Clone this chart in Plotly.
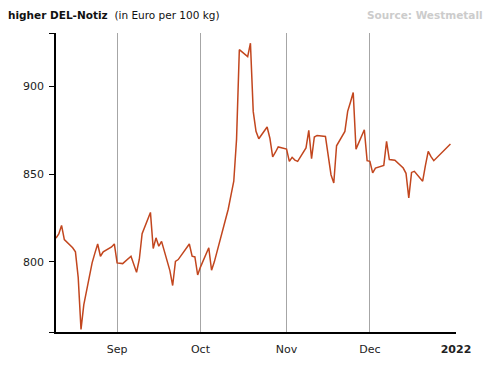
import plotly.graph_objects as go

dates = [
    "2021-08-10", "2021-08-11", "2021-08-12", "2021-08-13", "2021-08-16", "2021-08-17",
    "2021-08-18", "2021-08-19", "2021-08-20", "2021-08-23", "2021-08-24", "2021-08-25",
    "2021-08-26", "2021-08-27", "2021-08-30", "2021-08-31",
    "2021-09-01", "2021-09-02", "2021-09-03", "2021-09-06", "2021-09-07", "2021-09-08",
    "2021-09-09", "2021-09-10", "2021-09-13", "2021-09-14", "2021-09-15", "2021-09-16",
    "2021-09-17", "2021-09-20", "2021-09-21", "2021-09-22", "2021-09-23", "2021-09-24",
    "2021-09-27", "2021-09-28", "2021-09-29", "2021-09-30",
    "2021-10-01", "2021-10-04", "2021-10-05", "2021-10-06", "2021-10-07", "2021-10-08",
    "2021-10-11", "2021-10-12", "2021-10-13", "2021-10-14", "2021-10-15", "2021-10-18",
    "2021-10-19", "2021-10-20", "2021-10-21", "2021-10-22", "2021-10-25", "2021-10-26",
    "2021-10-27", "2021-10-28", "2021-10-29",
    "2021-11-01", "2021-11-02", "2021-11-03", "2021-11-04", "2021-11-05", "2021-11-08",
    "2021-11-09", "2021-11-10", "2021-11-11", "2021-11-12", "2021-11-15", "2021-11-16",
    "2021-11-17", "2021-11-18", "2021-11-19", "2021-11-22", "2021-11-23", "2021-11-24",
    "2021-11-25", "2021-11-26", "2021-11-29", "2021-11-30",
    "2021-12-01", "2021-12-02", "2021-12-03", "2021-12-06", "2021-12-07", "2021-12-08",
    "2021-12-09", "2021-12-10", "2021-12-13", "2021-12-14", "2021-12-15", "2021-12-16",
    "2021-12-17", "2021-12-20", "2021-12-21", "2021-12-22", "2021-12-23", "2021-12-24",
    "2021-12-30",
]
prices = [
    813.5, 815.9, 820.8, 812.7, 808.0, 805.7,
    791.0, 761.5, 775.5, 799.4, 805.0, 810.2,
    803.2, 805.7, 808.5, 810.2,
    799.4, 799.2, 799.0, 803.2, 798.6, 794.0,
    801.5, 816.0, 828.2, 807.6, 813.7, 808.9,
    811.7, 795.0, 786.5, 800.3, 801.3, 803.5,
    810.2, 803.2, 802.8, 792.5,
    797.0, 808.0, 795.2, 800.0, 806.0, 813.0,
    830.0, 838.0, 846.0, 870.0, 921.0, 917.0,
    924.7, 885.8, 874.4, 870.2, 876.9, 870.5,
    859.8, 862.5, 865.5,
    864.3, 857.3, 859.6, 858.0, 857.3, 865.0,
    875.0, 858.8, 871.2, 872.1, 871.5, 861.0,
    849.7, 845.0, 866.2, 874.4, 885.8, 891.0,
    896.6, 864.3, 875.3, 857.7,
    857.3, 850.7, 853.5, 855.0, 868.7, 858.3,
    858.0, 857.9, 853.5, 850.5, 836.5, 851.0,
    851.6, 846.0, 855.0, 863.0, 860.0, 857.7,
    867.2,
]

month_ticks = ["2021-09-01", "2021-10-01", "2021-11-01", "2021-12-01", "2022-01-01"]
month_labels = ["Sep", "Oct", "Nov", "Dec", "<b>2022</b>"]
y_ticks = [760, 800, 850, 900, 930.5]
y_labels = ["", "800", "850", "900", ""]
x_range = ["2021-08-10", "2022-01-01"]
y_range = [760, 930.5]

fig = go.Figure()
fig.add_trace(go.Scatter(
    x=dates, y=prices, mode="lines",
    line=dict(color="#c2461e", width=1.5),
    hoverinfo="skip", showlegend=False,
))

font = "DejaVu Sans"
fig.update_layout(
    width=494, height=357,
    margin=dict(l=48, r=46, t=25, b=33, autoexpand=False),
    paper_bgcolor="white", plot_bgcolor="white",
    font=dict(family=font, size=11, color="#222222"),
    xaxis=dict(
        range=x_range, tickmode="array", tickvals=month_ticks, ticktext=month_labels,
        showgrid=True, gridcolor="#a6a6a6", gridwidth=1,
        showline=True, linecolor="black", linewidth=1.5,
        ticks="", ticklabelstandoff=6, zeroline=False, automargin=False,
        tickfont=dict(family=font, size=11, color="#222222"),
    ),
    yaxis=dict(
        range=y_range, tickmode="array", tickvals=y_ticks, ticktext=y_labels,
        showgrid=False, showline=True, linecolor="black", linewidth=1.5,
        ticks="outside", ticklen=5, tickcolor="black", tickwidth=1,
        ticklabelstandoff=3, zeroline=False, automargin=False,
        tickfont=dict(family=font, size=11, color="#222222"),
    ),
    annotations=[
        dict(text="<b>higher DEL-Notiz</b>  (in Euro per 100 kg)", xref="paper", yref="paper",
             x=0, xshift=-50, y=1, yshift=18, xanchor="left", yanchor="middle", showarrow=False,
             font=dict(family=font, size=10.5, color="#111111")),
        dict(text="<b>Source: Westmetall</b>", xref="paper", yref="paper",
             x=1, xshift=29, y=1, yshift=18, xanchor="right", yanchor="middle", showarrow=False,
             font=dict(family=font, size=10.5, color="#cccccc")),
    ],
)
fig.write_html("out.html")
